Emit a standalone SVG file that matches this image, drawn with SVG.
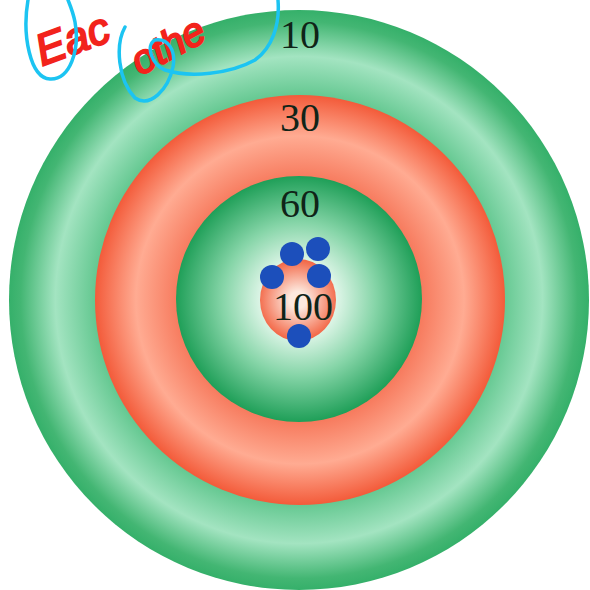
<svg xmlns="http://www.w3.org/2000/svg" width="590" height="590" viewBox="0 0 590 590">
  <defs>
    <radialGradient id="gOuter" gradientUnits="userSpaceOnUse" cx="299" cy="300" r="290">
      <stop offset="0.69" stop-color="#5ec58c"/>
      <stop offset="0.84" stop-color="#a3e4c1"/>
      <stop offset="0.96" stop-color="#43b673"/>
      <stop offset="1" stop-color="#35b06a"/>
    </radialGradient>
    <radialGradient id="gRed" gradientUnits="userSpaceOnUse" cx="300" cy="300" r="205">
      <stop offset="0.58" stop-color="#f6775a"/>
      <stop offset="0.8" stop-color="#ffab92"/>
      <stop offset="1" stop-color="#f35b3a"/>
    </radialGradient>
    <radialGradient id="gInner" gradientUnits="userSpaceOnUse" cx="299" cy="299" r="123">
      <stop offset="0.3" stop-color="#e0f6e9"/>
      <stop offset="0.62" stop-color="#86d5a8"/>
      <stop offset="1" stop-color="#1f9f58"/>
    </radialGradient>
    <radialGradient id="gCenter" gradientUnits="userSpaceOnUse" cx="298" cy="300" r="42">
      <stop offset="0.2" stop-color="#fde9df"/>
      <stop offset="1" stop-color="#f2603e"/>
    </radialGradient>
    <style>
      .lbl { font-family: "Liberation Serif", "Times New Roman", serif; font-size: 40px; fill: #102418; text-anchor: middle; }
      .dot { fill: #1c4fbb; }
      .ink { font-family: "Liberation Sans", Arial, sans-serif; font-style: italic; fill: #f2231c; stroke: #f2231c; stroke-width: 2; }
      .loop { fill: none; stroke: #1cc4f2; stroke-width: 3.5; stroke-linecap: round; }
    </style>
  </defs>
  <rect width="590" height="590" fill="#ffffff"/>

  <g id="ring-10">
    <circle cx="299" cy="300" r="290" fill="url(#gOuter)"/>
  </g>
  <g id="ring-30">
    <circle cx="300" cy="300" r="205" fill="url(#gRed)"/>
  </g>
  <g id="ring-60">
    <circle cx="299" cy="299" r="123" fill="url(#gInner)"/>
  </g>
  <g id="ring-100">
    <ellipse cx="298" cy="300" rx="38" ry="41" fill="url(#gCenter)"/>
  </g>

  <g id="labels">
    <text class="lbl" x="300" y="48">10</text>
    <text class="lbl" x="300" y="131">30</text>
    <text class="lbl" x="300" y="217">60</text>
    <text class="lbl" x="303" y="320">100</text>
  </g>

  <g id="hits">
    <circle class="dot" cx="292" cy="254" r="12"/>
    <circle class="dot" cx="318" cy="249" r="12"/>
    <circle class="dot" cx="272" cy="277" r="12"/>
    <circle class="dot" cx="319" cy="276" r="12"/>
    <circle class="dot" cx="299" cy="336" r="12"/>
  </g>

  <g id="annotation">
    <text class="ink" x="42" y="66" font-size="44" transform="rotate(-20 42 66)">Eac</text>
    <text class="ink" x="140" y="76" font-size="40" transform="rotate(-28 140 76)">othe</text>
    <path class="loop" d="M28,0 C22,35 30,78 50,79 C70,80 80,50 75,22 C73,12 70,5 68,0"/>
    <path class="loop" d="M125,27 C115,45 118,80 135,98 C150,108 168,90 173,67 C176,50 168,38 155,40 C145,45 152,65 165,70 C190,78 230,74 255,60 C272,48 280,25 278,0"/>
  </g>
</svg>
